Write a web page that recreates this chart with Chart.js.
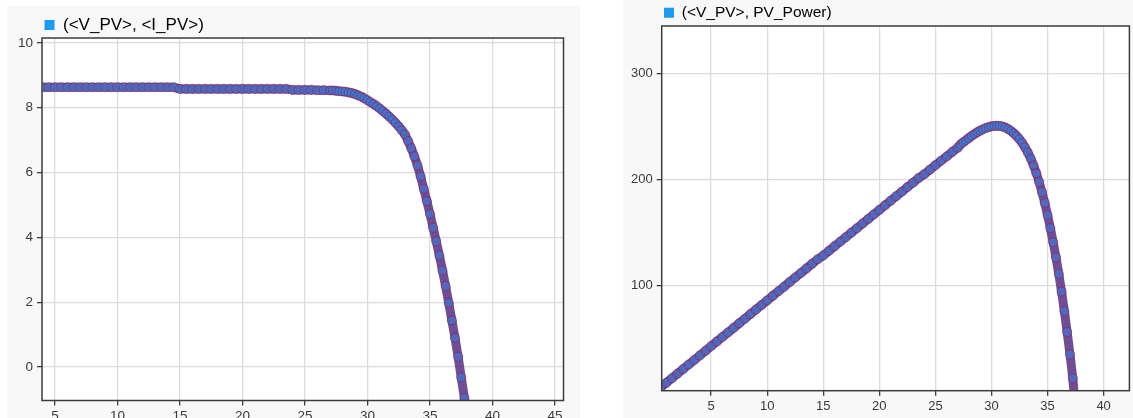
<!DOCTYPE html>
<html>
<head>
<meta charset="utf-8">
<script src="https://cdn.jsdelivr.net/npm/chart.js@4.4.1/dist/chart.umd.min.js"></script>
<style>
  html, body { margin: 0; padding: 0; background: #fff; overflow: hidden; width: 1133px; height: 418px; }
  .panel { position: absolute; background: #f8f8f8; }
  #p-iv { left: 7px; top: 6px; width: 573px; height: 440px; }
  #p-pv { left: 623px; top: -2px; width: 512px; height: 448px; }
</style>
</head>
<body>
<div class="panel" id="p-iv"><canvas id="chart-iv"></canvas></div>
<div class="panel" id="p-pv"><canvas id="chart-pv"></canvas></div>
<script>
// I-V curve samples (volts, amps)
const ivVoltage = [
  4, 4.5, 5, 5.5, 6, 6.5, 7, 7.5, 8, 8.5, 9, 9.5, 10, 10.5, 11, 11.5, 12, 12.5, 13, 13.5, 14, 14.5,
  15, 15.5, 16, 16.5, 17, 17.5, 18, 18.5, 19, 19.5, 20, 20.5, 21, 21.5, 22, 22.5, 23, 23.5,
  24, 24.5, 25, 25.5, 26, 26.5, 27,
  27.25, 27.5, 27.75, 28, 28.25, 28.5, 28.75, 29, 29.25, 29.5, 29.75, 30, 30.25, 30.5, 30.75,
  31, 31.25, 31.5, 31.75, 32, 32.25, 32.5, 32.75, 33, 33.25, 33.5, 33.75, 34, 34.25, 34.5, 34.75,
  35, 35.25, 35.5, 35.75, 36, 36.25, 36.5, 36.75, 37, 37.25, 37.5, 37.75, 37.9
];
const ivCurrent = [
  8.63, 8.63, 8.63, 8.63, 8.63, 8.63, 8.63, 8.63, 8.63, 8.63, 8.63, 8.63, 8.63, 8.63, 8.63, 8.63, 8.63, 8.63, 8.63, 8.63, 8.63, 8.63,
  8.58, 8.58, 8.58, 8.58, 8.58, 8.58, 8.58, 8.58, 8.58, 8.58, 8.58, 8.58, 8.58, 8.58, 8.58, 8.58, 8.58, 8.58,
  8.55, 8.55, 8.55, 8.55, 8.54, 8.54, 8.53,
  8.53, 8.52, 8.51, 8.50, 8.49, 8.47, 8.45, 8.42, 8.38, 8.34, 8.29, 8.23, 8.17, 8.11, 8.04,
  7.97, 7.89, 7.81, 7.72, 7.63, 7.53, 7.42, 7.30, 7.17, 6.97, 6.75, 6.50, 6.22, 5.88, 5.50, 5.12,
  4.72, 4.30, 3.88, 3.44, 2.98, 2.50, 1.98, 1.44, 0.90, 0.32, -0.32, -0.95, -1.30
];

// P-V curve samples (volts, watts)
const pvVoltage = [
  0.5, 1, 1.5, 2, 2.5, 3, 3.5, 4, 4.5, 5, 5.5, 6, 6.5, 7, 7.5, 8, 8.5, 9, 9.5, 10,
  10.5, 11, 11.5, 12, 12.5, 13, 13.5, 14, 14.5,
  15, 15.5, 16, 16.5, 17, 17.5, 18, 18.5, 19, 19.5, 20, 20.5, 21, 21.5, 22, 22.5, 23, 23.5,
  24, 24.5, 25, 25.5, 26, 26.5, 27,
  27.25, 27.5, 27.75, 28, 28.25, 28.5, 28.75, 29, 29.25, 29.5, 29.75, 30, 30.25, 30.5, 30.75,
  31, 31.25, 31.5, 31.75, 32, 32.25, 32.5, 32.75, 33, 33.25, 33.5, 33.75, 34, 34.25, 34.5, 34.75,
  35, 35.25, 35.5, 35.75, 36, 36.25, 36.5, 36.75, 37, 37.25, 37.4
];
const pvPower = [
  4.3, 8.6, 12.9, 17.3, 21.6, 25.9, 30.2, 34.5, 38.8, 43.2, 47.5, 51.8, 56.1, 60.4, 64.7, 69.0, 73.4, 77.7, 82.0, 86.3,
  90.6, 94.9, 99.2, 103.6, 107.9, 112.2, 116.5, 120.8, 125.1,
  128.7, 133.0, 137.3, 141.6, 145.9, 150.2, 154.4, 158.7, 163.0, 167.3, 171.6, 175.9, 180.2, 184.5, 188.8, 193.1, 197.3, 201.6,
  205.2, 209.5, 213.8, 218.0, 222.0, 226.3, 230.3,
  233.5, 235.5, 237.5, 239.5, 241.5, 243.3, 245.0, 246.4, 247.7, 248.8, 249.7, 250.4, 250.8, 251.0, 250.8,
  250.2, 249.2, 247.8, 246.0, 243.8, 241.2, 238.2, 234.6, 230.4, 225.6, 220.0, 213.6, 206.3, 198.0, 188.6, 178.2,
  166.8, 154.5, 141.2, 126.9, 111.4, 94.6, 76.3, 56.5, 35.6, 13.0, -5.0
];

const ivXTicks = [5, 10, 15, 20, 25, 30, 35, 40, 45];
const ivYTicks = [0, 2, 4, 6, 8, 10];
const pvXTicks = [5, 10, 15, 20, 25, 30, 35, 40];
const pvYTicks = [100, 200, 300];

const FONT = "'Liberation Sans', Arial, sans-serif";
const MARKER_BLUE = '#1e9bf0';

// white plot background + dark frame around the chart area
const plotFrame = {
  id: 'plotFrame',
  beforeDraw(chart) {
    const { ctx, chartArea: a } = chart;
    ctx.save();
    ctx.fillStyle = '#fff';
    ctx.fillRect(a.left, a.top, a.width, a.height);
    ctx.restore();
  },
  afterDraw(chart) {
    const { ctx, chartArea: a } = chart;
    ctx.save();
    ctx.strokeStyle = '#3c3c3c';
    ctx.lineWidth = 1.5;
    ctx.strokeRect(a.left, a.top, a.width, a.height);
    ctx.restore();
  }
};

// fixed legend band height, and legend row nudged over the plot
const legendBox = {
  id: 'legendBox',
  beforeLayout(chart, args, opts) {
    const lg = chart.legend;
    if (!lg || lg._fixedFit) return;
    const fit = lg.fit;
    lg.fit = function () { fit.call(this); this.height = opts.h; };
    lg._fixedFit = true;
  },
  afterLayout(chart, args, opts) {
    if (!chart.legend) return;
    chart.legend.left += opts.x || 0;
    chart.legend.right += opts.x || 0;
  }
};

function makeChart(id, opt) {
  const pts = opt.xs.map((x, i) => ({ x, y: opt.ys[i] }));
  const axisGrid = { color: '#dcdcdc', lineWidth: 1.3, tickColor: '#3c3c3c', tickLength: 5, tickWidth: 1.3 };
  return new Chart(document.getElementById(id), {
    type: 'scatter',
    data: {
      datasets: [{
        label: opt.label,
        data: pts,
        showLine: true,
        borderColor: 'rgba(98,58,136,0.9)',
        borderWidth: 9,
        pointRadius: 4.5,
        pointBackgroundColor: 'rgba(40,140,240,0.45)',
        pointBorderColor: 'rgba(150,28,72,0.55)',
        pointBorderWidth: 1.1,
        clip: 0
      }]
    },
    options: {
      responsive: true, maintainAspectRatio: false, animation: false,
      layout: { padding: opt.padding },
      plugins: {
        tooltip: { enabled: false },
        legendBox: { x: opt.legendX, h: opt.legendH },
        legend: {
          display: true, position: 'top', align: 'start',
          labels: {
            boxWidth: 10, boxHeight: 10, padding: opt.legendPad, color: '#333',
            font: { family: FONT, size: opt.legendSize },
            generateLabels: (c) => [{
              text: c.data.datasets[0].label, fillStyle: MARKER_BLUE,
              strokeStyle: MARKER_BLUE, lineWidth: 0, hidden: false, datasetIndex: 0
            }]
          }
        }
      },
      scales: {
        x: {
          type: 'linear', min: opt.xMin, max: opt.xMax,
          afterBuildTicks: s => { s.ticks = opt.xTicks.map(v => ({ value: v })); },
          afterFit: s => { s.height = opt.xAxisH; },
          border: { display: false },
          grid: axisGrid,
          ticks: { color: '#3a3a3a', padding: 3, maxRotation: 0, font: { family: FONT, size: opt.tickSize } }
        },
        y: {
          type: 'linear', min: opt.yMin, max: opt.yMax,
          afterBuildTicks: s => { s.ticks = opt.yTicks.map(v => ({ value: v })); },
          afterFit: s => { s.width = opt.yAxisW; },
          border: { display: false },
          grid: axisGrid,
          ticks: { color: '#3a3a3a', padding: 4, font: { family: FONT, size: opt.tickSize } }
        }
      }
    },
    plugins: [plotFrame, legendBox]
  });
}

makeChart('chart-iv', {
  label: '(<V_PV>, <I_PV>)', xs: ivVoltage, ys: ivCurrent,
  xMin: 3.96, xMax: 45.68, yMin: -1.03, yMax: 10.15,
  xTicks: ivXTicks, yTicks: ivYTicks,
  padding: { left: 0, right: 16.5, top: 0, bottom: 0 },
  yAxisW: 35, xAxisH: 45.5,
  legendSize: 17, legendPad: 10.5, legendH: 32, legendX: 27, tickSize: 13.5
});

makeChart('chart-pv', {
  label: '(<V_PV>, PV_Power)', xs: pvVoltage, ys: pvPower,
  xMin: 0.59, xMax: 42.3, yMin: 1.2, yMax: 345,
  xTicks: pvXTicks, yTicks: pvYTicks,
  padding: { left: 0, right: 0, top: 0, bottom: 0 },
  yAxisW: 38.7, xAxisH: 55.3,
  legendSize: 15.5, legendPad: 7, legendH: 28, legendX: 34, tickSize: 13
});
</script>
</body>
</html>
